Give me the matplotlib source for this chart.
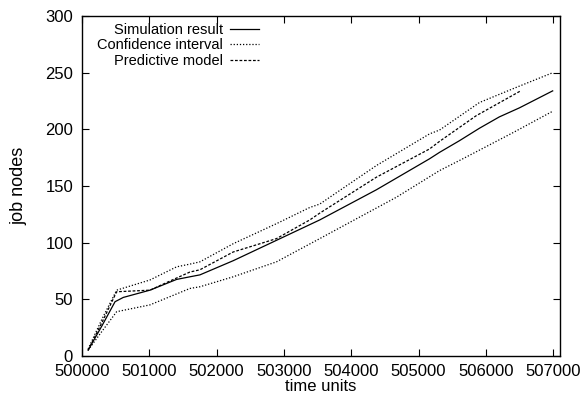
import matplotlib
matplotlib.use("Agg")
import matplotlib.pyplot as plt

plt.rcParams['font.family'] = ['Liberation Sans', 'DejaVu Sans']
plt.rcParams['font.size'] = 12

# simulation result (solid)
sim_x = [500090, 500300, 500490, 500613, 501009, 501405, 501602, 501751, 502245,
         502888, 503531, 504372, 505163, 505312, 505608, 505905, 506200, 506499, 506993]
sim_y = [5, 27, 47.8, 51.6, 58, 67.5, 69.8, 71.5, 84,
         102, 120, 146.6, 174, 179.7, 190, 201, 211, 219, 234]

# confidence interval, upper and lower (dotted)
up_x = [500090, 500300, 500514, 501009, 501405, 501602, 501751, 502245, 502888,
        503383, 503531, 504372, 505163, 505312, 505905, 506449, 506993]
up_y = [6, 33, 58, 67, 78.6, 81, 83, 99, 116.7,
        131, 134, 168, 196, 199.4, 223.7, 237, 250]
lo_x = [500090, 500300, 500514, 501009, 501602, 501751, 502245, 502888, 503531,
        504076, 504669, 505312, 505657, 506400, 506993]
lo_y = [5, 22, 39, 45, 59.5, 61, 69.8, 83, 103.5,
        121, 140, 163.6, 174, 197, 216]

# predictive model (dashed)
mod_x = [500090, 500300, 500514, 501009, 501355, 501602, 501751, 502245, 502888,
         503383, 503531, 504372, 505163, 505312, 505855, 506499, 506520]
mod_y = [5, 30, 56.6, 58, 67.4, 74, 76, 91.7, 103.5,
         120, 126, 157.7, 182.7, 189.4, 212, 233.4, 234]

xticks = [500000, 501000, 502000, 503000, 504000, 505000, 506000, 507000]
yticks = [0, 50, 100, 150, 200, 250, 300]

fig = plt.figure(figsize=(5.82, 4.03), dpi=100)
ax = fig.add_axes([0.141, 0.117, 0.821, 0.843])

lw = 0.9
ax.plot(sim_x, sim_y, color='black', lw=lw, label='Simulation result')
ax.plot(up_x, up_y, color='black', lw=lw, ls=(0, (1, 1.5)), label='Confidence interval')
ax.plot(lo_x, lo_y, color='black', lw=lw, ls=(0, (1, 1.5)))
ax.plot(mod_x, mod_y, color='black', lw=lw, ls=(0, (2.2, 1.4)), label='Predictive model')

ax.set_xlim(500000, 507100)
ax.set_ylim(0, 300)
ax.set_xticks(xticks)
ax.set_yticks(yticks)
ax.tick_params(direction='in', top=True, right=True, length=5, width=0.8, labelsize=12)
ax.tick_params(axis='x', pad=6)
ax.tick_params(axis='y', pad=6.5)
for s in ax.spines.values():
    s.set_linewidth(1.0)

ax.set_xlabel('time units', labelpad=0)
ax.set_ylabel('job nodes', labelpad=13, fontsize=13)

ax.legend(loc='upper left', bbox_to_anchor=(0.031, 0.98), frameon=False,
          markerfirst=False, handlelength=2.0, handletextpad=0.5,
          labelspacing=0.1, borderpad=0, borderaxespad=0, fontsize=10.5)

fig.savefig('out.png', dpi=100)
